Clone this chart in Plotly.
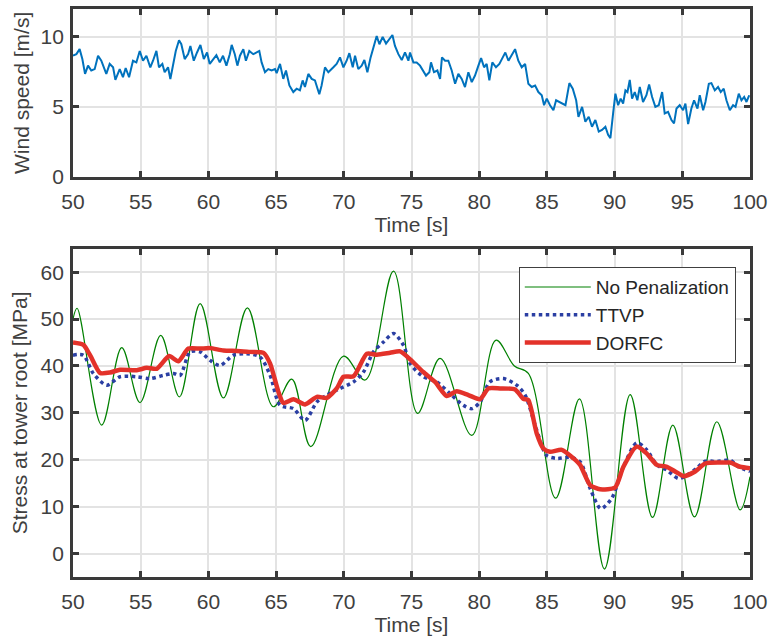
import plotly.graph_objects as go
from plotly.subplots import make_subplots

# ---------------- Wind speed (top panel) ----------------
wind_t = [50.00, 50.25, 50.49, 50.69, 50.89, 51.11, 51.35, 51.60, 51.85, 52.09, 52.46, 52.71, 52.96, 53.13,
          53.45, 53.69, 53.89, 54.14, 54.43, 54.68, 54.93, 55.17, 55.42, 55.71, 55.91, 56.16, 56.35, 56.60,
          56.77, 57.02, 57.19, 57.39, 57.59, 57.83, 58.00, 58.25, 58.50, 58.67, 58.92, 59.16, 59.41, 59.66,
          59.90, 60.10, 60.34, 60.59, 60.84, 61.08, 61.33, 61.58, 61.72, 61.95, 62.14,
          62.33, 62.58, 62.77, 63.02, 63.31, 63.56, 63.76, 63.93, 64.18, 64.42, 64.67, 64.92, 65.04, 65.29,
          65.53, 65.73, 65.98, 66.27, 66.52, 66.76, 66.96, 67.13, 67.38, 67.63, 67.87, 68.19, 68.36, 68.61,
          68.86, 69.23, 69.47, 69.72, 69.97, 70.21, 70.41, 70.66, 70.83, 71.07, 71.32, 71.52, 71.74, 71.98,
          72.23, 72.43, 72.63, 72.87, 73.12, 73.36, 73.59, 73.78, 74.03, 74.28, 74.52, 74.77,
          74.89, 75.14, 75.38, 75.63, 75.83, 76.07, 76.32, 76.44, 76.66, 76.91, 77.11, 77.25, 77.48, 77.72,
          77.97, 78.22, 78.46, 78.71, 78.95, 79.20, 79.45, 79.69, 79.94, 80.14, 80.36, 80.55, 80.75, 80.97,
          81.24, 81.49, 81.74, 81.93, 82.16, 82.40, 82.65, 82.89, 83.14, 83.39, 83.63, 83.88, 84.13, 84.37,
          84.62, 84.79, 84.99, 85.23, 85.48, 85.68, 85.92, 86.17, 86.37, 86.66, 86.91, 87.16, 87.33,
          87.60, 87.84, 88.09, 88.33, 88.58, 88.83, 89.07, 89.32, 89.52, 89.69, 89.89, 90.06, 90.26, 90.45,
          90.63, 90.80, 90.95, 91.12, 91.29, 91.49, 91.68, 91.86, 92.10, 92.35, 92.55, 92.77, 93.01, 93.26,
          93.51, 93.70, 93.95, 94.20, 94.39, 94.57, 94.81, 95.06, 95.23, 95.43, 95.67, 95.87, 96.12, 96.29,
          96.54, 96.71, 96.96, 97.15, 97.40, 97.64, 97.84, 98.06, 98.26, 98.51, 98.75, 98.93, 99.17, 99.37,
          99.57, 99.74, 99.94]
wind_v = [8.66, 8.77, 9.13, 8.42, 7.36, 7.95, 7.60, 7.70, 8.66, 8.30, 7.36, 8.07, 7.83, 6.93,
          7.70, 7.12, 7.78, 7.12, 8.30, 8.18, 9.00, 8.30, 8.66, 7.83, 8.30, 9.00, 7.83, 8.07,
          7.48, 7.83, 6.99, 7.95, 9.00, 9.76, 9.48, 8.42, 8.77, 9.36, 8.30, 8.89, 9.43, 8.42,
          8.89, 8.07, 8.42, 8.70, 8.18, 8.66, 7.95, 8.77, 9.43, 8.77, 7.95,
          8.66, 9.13, 8.30, 9.00, 8.77, 8.89, 9.00, 8.18, 7.48, 7.70, 7.60, 7.70, 7.41, 8.07,
          7.00, 7.60, 6.53, 6.06, 6.30, 6.18, 6.89, 6.42, 7.36, 7.00, 6.89, 5.90, 6.53, 7.83,
          7.48, 7.83, 8.07, 8.54, 7.83, 8.30, 8.84, 7.83, 8.66, 7.70, 7.95, 8.35, 7.48, 8.54,
          9.48, 10.07, 9.48, 10.00, 9.53, 9.83, 10.14, 9.36, 8.77, 8.35, 8.89, 8.30,
          8.89, 8.18, 8.18, 7.95, 7.60, 7.24, 7.48, 8.18, 7.48, 7.60, 7.00, 8.54, 8.30, 8.30,
          7.60, 6.65, 7.36, 7.00, 6.42, 7.48, 6.77, 7.24, 7.95, 8.49, 7.83, 8.07, 6.89, 8.18,
          7.83, 8.07, 8.54, 8.89, 8.30, 8.66, 9.13, 8.30, 7.83, 8.07, 6.65, 6.42, 6.53, 6.06,
          5.83, 5.12, 5.59, 5.12, 4.76, 5.47, 5.35, 5.24, 5.12, 6.70, 6.30, 5.47, 4.29,
          5.00, 3.94, 4.29, 3.58, 4.06, 3.23, 3.35, 3.58, 3.00, 2.76, 4.53, 5.94, 5.12, 5.59,
          5.24, 6.18, 6.06, 6.93, 5.59, 6.06, 5.47, 6.42, 5.35, 5.83, 6.60, 5.71, 5.00, 5.12,
          6.06, 4.53, 4.65, 4.06, 3.82, 4.88, 5.12, 4.76, 5.24, 3.77, 4.88, 5.47, 4.88, 5.83,
          4.76, 5.35, 6.65, 6.70, 6.18, 6.42, 6.06, 6.30, 5.47, 4.76, 5.12, 5.00, 5.94, 5.47,
          5.71, 5.35, 5.83]

# ---------------- Stress at tower root (bottom panel) ----------------
nopen_t = [50.00, 50.30, 52.12, 53.60, 54.95, 56.48, 57.86, 59.39, 61.11, 62.88, 64.80, 66.16, 67.56,
           69.98, 71.58, 73.67, 75.45, 77.11, 79.45, 81.24, 82.60, 83.63, 85.65, 87.40, 89.25, 91.15,
           92.80, 94.30, 95.90, 97.55, 99.27, 100.00]
nopen_v = [50.0, 52.3, 27.4, 43.9, 32.2, 46.5, 33.4, 53.3, 33.2, 52.4, 31.3, 37.2, 22.8,
           42.1, 37.0, 60.2, 29.9, 41.6, 25.2, 45.5, 40.0, 38.4, 11.8, 33.0, -3.3, 33.9,
           7.7, 27.4, 7.8, 28.1, 9.3, 16.4]

ttvp_t = [50.00, 50.76, 51.50, 52.49, 53.47, 54.70, 55.69, 56.68, 57.42, 57.91, 58.65, 59.39, 60.12,
          60.86, 61.85, 62.83, 63.82, 64.56, 65.30, 66.28, 67.14, 68.01, 68.75, 69.73, 70.72, 71.45,
          72.19, 72.93, 73.67, 74.41, 74.90, 75.87, 76.86, 77.85, 78.83, 79.45, 80.06, 80.80, 81.79,
          82.77, 83.39, 84.25, 84.99, 85.73, 86.71, 87.45, 88.19, 88.98, 89.79, 90.65, 91.64, 92.38,
          93.12, 93.86, 94.72, 95.33, 96.07, 96.69, 97.55, 98.53, 99.15, 100.00]
ttvp_v = [42.3, 42.3, 38.4, 35.9, 37.7, 37.7, 37.3, 38.0, 38.4, 38.0, 43.0, 43.0, 41.2,
          40.1, 42.3, 42.6, 41.9, 38.0, 31.6, 30.9, 28.4, 32.3, 33.8, 35.2, 36.6, 38.7,
          43.0, 45.1, 46.9, 44.4, 40.5, 37.7, 36.6, 34.1, 31.6, 30.9, 32.3, 36.6, 37.3,
          35.9, 33.8, 26.3, 20.9, 20.3, 20.5, 19.6, 13.9, 9.6, 11.8, 18.5, 23.6, 22.1,
          18.9, 17.8, 16.0, 16.7, 18.2, 19.7, 19.6, 19.9, 18.5, 17.5]

dorfc_t = [50.00, 50.77, 51.26, 52.00, 52.74, 53.47, 54.71, 55.45, 56.18, 57.10, 57.78, 58.52, 59.39,
           60.12, 61.11, 62.10, 63.08, 64.07, 64.56, 65.17, 65.54, 66.28, 67.14, 68.01, 68.75, 69.48,
           69.98, 70.72, 71.70, 72.44, 73.42, 74.16, 74.90, 75.87, 76.74, 77.60, 78.34, 79.20, 80.06,
           80.68, 81.54, 82.65, 83.26, 83.63, 84.25, 84.74, 85.23, 86.10, 86.96, 87.45, 88.19, 88.93,
           90.04, 90.65, 91.64, 92.38, 93.12, 93.86, 94.47, 95.09, 95.95, 96.69, 97.80, 98.53, 99.27,
           100.00]
dorfc_v = [45.0, 44.5, 42.3, 38.5, 38.6, 39.2, 39.1, 39.6, 39.4, 42.1, 41.0, 43.7, 43.7,
           43.8, 43.3, 43.2, 43.0, 42.8, 40.5, 34.5, 32.1, 32.9, 31.8, 33.4, 33.2, 35.2,
           37.7, 37.8, 42.6, 42.4, 42.8, 43.1, 41.4, 38.7, 36.6, 33.6, 34.6, 33.8, 32.9,
           35.2, 35.2, 35.0, 33.0, 32.7, 25.6, 22.4, 21.7, 22.1, 20.3, 18.9, 14.6, 13.7,
           14.1, 18.5, 22.8, 21.3, 18.9, 18.5, 17.5, 16.5, 17.5, 19.2, 19.4, 19.4, 18.5,
           18.2]

x_ticks = [50, 55, 60, 65, 70, 75, 80, 85, 90, 95, 100]
wind_ticks = [0, 5, 10]
stress_ticks = [0, 10, 20, 30, 40, 50, 60]

FONT = "Liberation Sans, Arial, Helvetica, sans-serif"
AX = "#3a3a3a"
TXT = "#404040"
GRID = "#e3e3e3"

fig = make_subplots(rows=2, cols=1, shared_xaxes=False, vertical_spacing=0.1)

fig.add_trace(go.Scatter(x=wind_t, y=wind_v, mode="lines", showlegend=False,
                         line=dict(color="#0072BD", width=2)), row=1, col=1)

fig.add_trace(go.Scatter(x=nopen_t, y=nopen_v, mode="lines", name="No Penalization",
                         line=dict(color="#008000", width=1.2, shape="spline", smoothing=1.0)),
              row=2, col=1)
fig.add_trace(go.Scatter(x=ttvp_t, y=ttvp_v, mode="lines", name="TTVP",
                         line=dict(color="#2B3FA3", width=3.5, dash="dot", shape="spline", smoothing=0.8)),
              row=2, col=1)
fig.add_trace(go.Scatter(x=dorfc_t, y=dorfc_v, mode="lines", name="DORFC",
                         line=dict(color="#E3322A", width=4.5, shape="spline", smoothing=0.6)),
              row=2, col=1)

axis_common = dict(showline=True, linecolor=AX, linewidth=2.7, mirror="ticks",
                   ticks="inside", ticklen=6, tickwidth=2.7, tickcolor=AX,
                   showgrid=True, gridcolor=GRID, gridwidth=1.5, zeroline=False,
                   automargin=False,
                   tickfont=dict(family=FONT, size=21, color=TXT),
                   title_font=dict(family=FONT, size=21, color=TXT))

fig.update_xaxes(range=[50, 100], tickvals=x_ticks, title_text="Time [s]",
                 title_standoff=4, ticklabelstandoff=4, **axis_common)
fig.update_yaxes(axis_common)
fig.update_yaxes(range=[0, 12], tickvals=wind_ticks, title_text="Wind speed [m/s]",
                 title_standoff=6, ticklabelstandoff=2, row=1, col=1)
fig.update_yaxes(range=[-5, 65], tickvals=stress_ticks, title_text="Stress at tower root [MPa]",
                 title_standoff=8, ticklabelstandoff=2, row=2, col=1)

fig.update_layout(
    width=769, height=640,
    margin=dict(l=73, r=19, t=9, b=63),
    paper_bgcolor="white", plot_bgcolor="white",
    font=dict(family=FONT, size=21, color=TXT),
    legend=dict(x=0.979, y=0.5455, xanchor="right", yanchor="top",
                bgcolor="white", bordercolor="#404040", borderwidth=1,
                font=dict(family=FONT, size=19, color="#262626"),
                itemwidth=66, tracegroupgap=0),
)
fig.layout.yaxis.domain = [0.7046, 1.0]
fig.layout.yaxis2.domain = [0.0, 0.578]

fig.write_html("out.html", config={"displayModeBar": False},
               post_script="document.body.style.margin='0';document.body.style.overflow='hidden';")
